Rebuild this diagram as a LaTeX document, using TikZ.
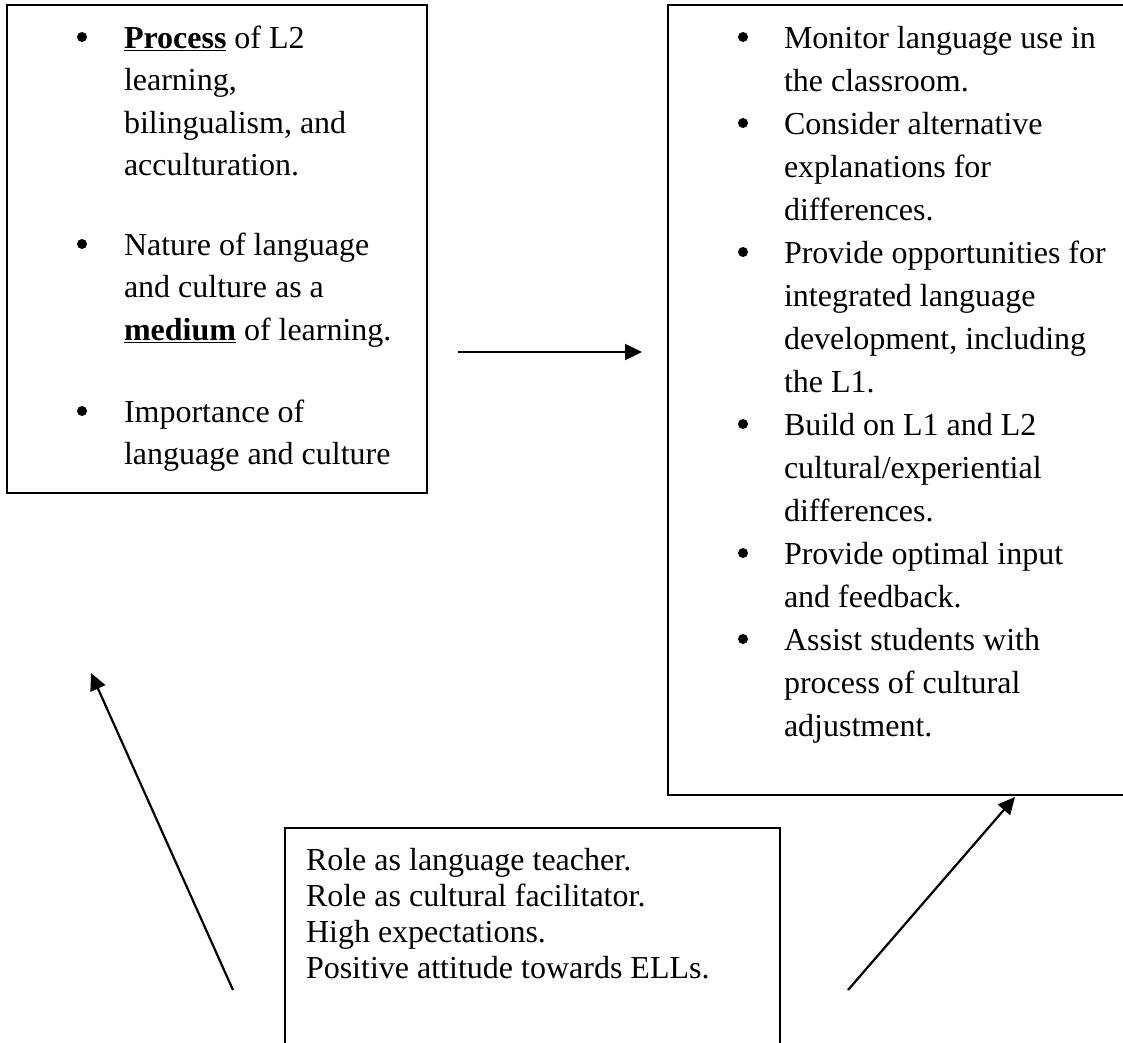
\documentclass[tikz,border=0pt]{standalone}
\usepackage{fontspec}
\setmainfont{Liberation Serif}
\usetikzlibrary{arrows.meta}
\tikzset{
  txt/.style={anchor=base west, inner sep=0pt, outer sep=0pt, font=\fontsize{32}{38}\selectfont},
  bul/.style={circle, fill=black, inner sep=0pt, minimum size=10pt},
  boxsty/.style={draw=black, line width=1.8pt, anchor=north west, inner sep=0pt, outer sep=0pt},
  arr/.style={line width=2.2pt, -{Triangle[length=17pt,width=16pt]}}
}
\begin{document}
\begin{tikzpicture}[x=1pt,y=-1pt]
\useasboundingbox (0,0) rectangle (1123,1042);
\clip (0,0) rectangle (1123,1042);
% boxes
\node[boxsty, minimum width=420pt, minimum height=488pt] (lbox) at (7,5) {};
\node[boxsty, minimum width=470pt, minimum height=790pt] (rbox) at (668,5) {};
\node[boxsty, minimum width=495pt, minimum height=240pt] (bbox) at (285,828) {};
% left box text
\node[bul] (lb1) at (82,37) {};
\node[txt] (l1) at (124,48) {\underline{\textbf{Process}} of L2};
\node[txt] (l2) at (124,90.5) {learning,};
\node[txt] (l3) at (124,133) {bilingualism, and};
\node[txt] (l4) at (124,175.5) {acculturation.};
\node[bul] (lb2) at (82,244) {};
\node[txt] (l5) at (124,255) {Nature of language};
\node[txt] (l6) at (124,297.5) {and culture as a};
\node[txt] (l7) at (124,340) {\underline{\textbf{medium}} of learning.};
\node[bul] (lb3) at (82,411) {};
\node[txt] (l8) at (124,422) {Importance of};
\node[txt] (l9) at (124,464.5) {language and culture};
% right box text
\node[bul] (rb1) at (743,37) {};
\node[txt] (r1) at (784,48) {Monitor language use in};
\node[txt] (r2) at (784,91) {the classroom.};
\node[bul] (rb2) at (743,123) {};
\node[txt] (r3) at (784,134) {Consider alternative};
\node[txt] (r4) at (784,177) {explanations for};
\node[txt] (r5) at (784,220) {differences.};
\node[bul] (rb3) at (743,252) {};
\node[txt] (r6) at (784,263) {Provide opportunities for};
\node[txt] (r7) at (784,306) {integrated language};
\node[txt] (r8) at (784,349) {development, including};
\node[txt] (r9) at (784,392) {the L1.};
\node[bul] (rb4) at (743,424) {};
\node[txt] (r10) at (784,435) {Build on L1 and L2};
\node[txt] (r11) at (784,478) {cultural/experiential};
\node[txt] (r12) at (784,521) {differences.};
\node[bul] (rb5) at (743,553) {};
\node[txt] (r13) at (784,564) {Provide optimal input};
\node[txt] (r14) at (784,607) {and feedback.};
\node[bul] (rb6) at (743,639) {};
\node[txt] (r15) at (784,650) {Assist students with};
\node[txt] (r16) at (784,693) {process of cultural};
\node[txt] (r17) at (784,736) {adjustment.};
% bottom box text
\node[txt] (b1) at (306,870) {Role as language teacher.};
\node[txt] (b2) at (306,906) {Role as cultural facilitator.};
\node[txt] (b3) at (306,942) {High expectations.};
\node[txt] (b4) at (306,978) {Positive attitude towards ELLs.};
% arrows
\coordinate (h1) at (458,352);
\coordinate (h2) at (642,352);
\coordinate (la1) at (233,990);
\coordinate (la2) at (91,673);
\coordinate (ra1) at (848,990);
\coordinate (ra2) at (1015,797);
\draw[arr] (h1) -- (h2);
\draw[arr] (la1) -- (la2);
\draw[arr] (ra1) -- (ra2);
\end{tikzpicture}
\end{document}
